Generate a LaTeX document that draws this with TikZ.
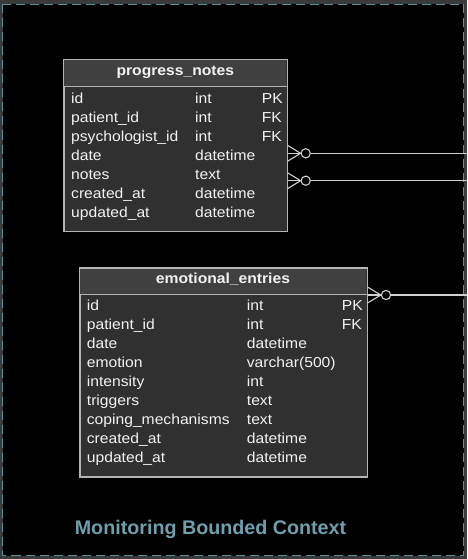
\documentclass[tikz,border=0pt]{standalone}
\usepackage{fontspec}
\setmainfont{Liberation Sans}
\newfontfamily\rowfont[FakeStretch=1.08]{Liberation Sans}
\usetikzlibrary{calc}
\definecolor{outerc}{HTML}{3A3A3A}
\definecolor{dashc}{HTML}{5B8E9B}
\definecolor{titlec}{HTML}{6F9FAC}
\definecolor{tborder}{HTML}{B4B4B4}
\definecolor{tbodyc}{HTML}{303030}
\definecolor{theadc}{HTML}{404040}
\definecolor{ttext}{HTML}{F2F2F2}
\definecolor{linec}{HTML}{CFCFCF}
\begin{document}
\begin{tikzpicture}[x=1pt,y=-1pt,
  tbody/.style={draw=tborder, fill=tbodyc, line width=1pt, inner sep=0pt, anchor=north west},
  thead/.style={fill=theadc, inner sep=0pt, anchor=north west},
  cell/.style={anchor=base west, inner sep=0pt, text=ttext, font=\rowfont\fontsize{14.5}{16}\selectfont},
  hdr/.style={anchor=base, inner sep=0pt, text=ttext, font=\rowfont\fontsize{14.5}{16}\selectfont\bfseries},
  rel/.style={draw=linec, line width=1.1pt},
  circ/.style={circle, draw=linec, fill=black, line width=1.1pt, minimum size=9.2pt, inner sep=0pt},
  ttl/.style={anchor=base, inner sep=0pt, text=titlec, font=\fontsize{19.7}{24}\selectfont\bfseries}
]
\useasboundingbox (0,0) rectangle (467,559);
\fill[outerc] (0,0) rectangle (467,559);
\draw[dashc, fill=black, line width=1.2pt, dash pattern=on 9pt off 5pt] (2.5,4.5) rectangle (463.5,555.5);

% progress_notes
\node[tbody, minimum width=223pt, minimum height=171pt] (pn) at (63.5,59.5) {};
\node[thead, minimum width=222pt, minimum height=26.5pt] (pnh) at (64,60) {};
\draw[tborder, line width=1pt] (pn.north west) rectangle (pn.south east);
\draw[tborder, line width=1pt] (pn.west |- pnh.south) -- (pn.east |- pnh.south);
\node[hdr] (pnt) at (175.3,75.7) {progress\_notes};
\foreach \n/\t/\k [count=\i] in {id/int/PK, patient\_id/int/FK, psychologist\_id/int/FK, date/datetime/, notes/text/, created\_at/datetime/, updated\_at/datetime/}{
  \node[cell] (pn-n\i) at (71,{103+(\i-1)*19}) {\n};
  \node[cell] (pn-t\i) at (195,{103+(\i-1)*19}) {\t};
  \node[cell] (pn-k\i) at (261.7,{103+(\i-1)*19}) {\k};
}

% emotional_entries
\node[tbody, minimum width=287pt, minimum height=208.5pt] (ee) at (79.5,267.8) {};
\node[thead, minimum width=286pt, minimum height=26pt] (eeh) at (80,268.3) {};
\draw[tborder, line width=1pt] (ee.north west) rectangle (ee.south east);
\draw[tborder, line width=1pt] (ee.west |- eeh.south) -- (ee.east |- eeh.south);
\node[hdr] (eet) at (223,283.7) {emotional\_entries};
\foreach \n/\t/\k [count=\i] in {id/int/PK, patient\_id/int/FK, date/datetime/, emotion/varchar(500)/, intensity/int/, triggers/text/, coping\_mechanisms/text/, created\_at/datetime/, updated\_at/datetime/}{
  \node[cell] (ee-n\i) at (86.7,{310.3+(\i-1)*19}) {\n};
  \node[cell] (ee-t\i) at (246.7,{310.3+(\i-1)*19}) {\t};
  \node[cell] (ee-k\i) at (341.7,{310.3+(\i-1)*19}) {\k};
}

% relations
\node[circ] (o1) at (305.7,153.3) {};
\node[circ] (o2) at (305.7,180.7) {};
\node[circ] (o3) at (386,295) {};
\coordinate (e1) at (467,153.3);
\coordinate (e2) at (467,180.7);
\coordinate (e3) at (467,295);
\foreach \o/\e/\t in {o1/e1/pn, o2/e2/pn, o3/e3/ee}{
  \draw[rel] (\o.east) -- (\e);
  \draw[rel] ($(\o.west -| \t.east)+(0,-8)$) -- (\o.west) -- ($(\o.west -| \t.east)+(0,8)$);
  \draw[rel] (\o.west -| \t.east) -- (\o.west);
}

\node[ttl] (title) at (210.5,534.3) {Monitoring Bounded Context};
\end{tikzpicture}
\end{document}
